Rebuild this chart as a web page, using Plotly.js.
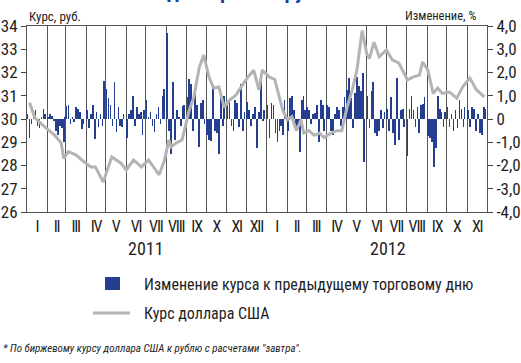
<!DOCTYPE html>
<html>
<head>
<meta charset="utf-8">
<script src="https://cdn.plot.ly/plotly-3.0.1.min.js"></script>
<style>html,body{margin:0;padding:0;background:#fff}#chart{width:521px;height:363px}
.xtick text{letter-spacing:-1.2px}</style>
</head>
<body>
<div id="chart"></div>
<script>
// ---- DATA ----
const monthStarts2011 = ['2011-01','2011-02','2011-03','2011-04','2011-05','2011-06','2011-07','2011-08','2011-09','2011-10','2011-11','2011-12'];
const monthStarts2012 = ['2012-01','2012-02','2012-03','2012-04','2012-05','2012-06','2012-07','2012-08','2012-09','2012-10','2012-11'];
const barDays = [2,5,8,11,14,17,20,23,26,28];

// daily change of the rate, % (10 readings per month)
const barChange2011 = [
  0.2,-0.8,-0.2,0.3,0.4,-0.3,-0.4,0.1,0.45,0.2,
  0.1,0.2,0.15,-0.1,-0.5,-0.7,-0.3,-0.4,-1.0,0.1,
  0.55,0.6,-0.2,0.1,-0.15,0.5,0.45,0.3,-0.45,-0.2,
  0.4,-0.4,0.2,0.6,-0.85,0.3,-0.35,0.2,-0.3,1.65,
  1.3,0.9,0.6,-0.3,1.6,-0.55,0.5,-0.3,-0.35,0.2,
  -0.8,0.2,0.4,1.0,-0.3,0.5,0.2,0.3,-0.7,0.4,
  0.8,0.1,0.3,-0.3,-0.55,0.2,0.5,-0.2,1.0,1.3,
  3.7,-0.5,-1.5,1.6,-0.9,0.4,0.1,-0.3,0.55,0.6,
  0.95,1.7,1.5,-0.5,1.2,0.6,-1.2,0.7,0.8,-0.2,
  -0.7,-0.9,-0.95,1.4,-0.5,-0.6,-1.5,0.9,-0.3,1.0,
  0.6,0.8,-0.3,-0.5,0.8,0.7,-0.35,1.5,-0.5,0.3,
  0.75,0.4,-0.3,0.2,0.5,-1.25,0.3,1.6,-0.1,0.4
];
const barChange2012 = [
  0.6,-0.8,0.7,0.6,-0.6,-1.0,-0.5,-0.3,-0.7,0.8,
  -0.5,0.9,1.0,0.4,-0.3,-0.4,-1.4,0.8,1.0,0.4,
  0.5,0.4,-0.2,0.2,0.25,0.6,-1.0,0.8,0.6,-0.5,
  0.6,0.5,-0.5,-0.7,0.2,0.5,0.4,-0.3,0.5,0.95,
  1.25,1.75,0.9,-0.4,1.1,1.8,1.4,1.2,2.0,-1.85,
  1.0,-0.4,1.2,1.6,-0.6,-0.75,-0.5,0.4,-0.4,0.3,
  0.45,-0.5,0.95,-0.6,-1.1,1.75,-0.9,0.4,0.45,-0.35,
  -1.6,0.45,1.0,0.4,-0.35,0.5,-0.6,0.6,0.65,0.95,
  -0.75,-0.8,-1.0,-2.05,-1.25,1.0,0.45,0.3,-0.35,0.3,
  0.5,-0.35,0.2,-0.5,0.4,-0.4,0.8,0.45,-0.35,0.5,
  0.4,-0.35,0.5,0.45,-0.5,0.2,-0.6,-0.7,0.5,0.45
];

// USD rate, rub.
const rateDates = [
  '2011-01-05','2011-01-13','2011-01-28','2011-02-12','2011-02-22','2011-02-26','2011-03-05','2011-03-17','2011-03-25',
  '2011-04-08','2011-04-15','2011-04-27','2011-05-10','2011-05-24','2011-06-01','2011-06-12','2011-06-24',
  '2011-07-05','2011-07-21','2011-07-29','2011-08-05','2011-08-08','2011-08-16','2011-08-25',
  '2011-09-05','2011-09-12','2011-09-20','2011-09-27','2011-10-05','2011-10-12','2011-10-20','2011-10-28',
  '2011-11-05','2011-11-15','2011-11-23','2011-12-02','2011-12-12','2011-12-20','2011-12-25',
  '2012-01-05','2012-01-13','2012-01-21','2012-01-25','2012-02-01','2012-02-08','2012-02-15','2012-02-22','2012-02-26',
  '2012-03-05','2012-03-13','2012-03-21','2012-03-28','2012-04-08','2012-04-17','2012-04-24',
  '2012-05-02','2012-05-10','2012-05-17','2012-05-25','2012-06-01','2012-06-05','2012-06-12','2012-06-20',
  '2012-07-01','2012-07-10','2012-07-20','2012-07-28','2012-08-02','2012-08-10','2012-08-20','2012-08-25',
  '2012-09-02','2012-09-10','2012-09-17','2012-09-24','2012-10-05','2012-10-16','2012-10-25',
  '2012-11-05','2012-11-15','2012-11-27'
];
const rateValues = [
  30.7,30.05,29.66,29.31,28.97,28.3,28.6,28.45,28.24,
  27.94,27.94,27.29,28.37,28.1,27.8,28.24,27.94,
  28.24,27.6,28.2,29.1,28.8,28.97,29.1,
  30.39,30.95,32.2,32.75,31.8,31.33,31.38,30.5,
  30.8,31.03,31.38,31.76,32.1,31.25,32.1,
  31.8,31.7,30.8,30.4,29.96,30.1,29.5,29.96,29.4,
  29.5,29.3,29.4,29.2,29.4,29.5,29.5,
  30.5,31.25,32.1,33.8,32.8,32.6,33.3,32.67,
  32.97,32.54,32.4,31.98,31.68,31.8,31.89,32.45,
  32.1,31.1,31.33,31.1,31.16,30.9,31.38,
  31.76,31.25,30.95
];

const monthTickVals = ['2011-01-16','2011-02-15','2011-03-16','2011-04-16','2011-05-16','2011-06-16','2011-07-16','2011-08-16','2011-09-16','2011-10-16','2011-11-16','2011-12-16',
  '2012-01-16','2012-02-15','2012-03-16','2012-04-16','2012-05-16','2012-06-16','2012-07-16','2012-08-16','2012-09-16','2012-10-16','2012-11-16'];
const monthTickText = ['I','II','III','IV','V','VI','VII','VIII','IX','X','XI','XII','I','II','III','IV','V','VI','VII','VIII','IX','X','XI'];
const rubTicks = [26,27,28,29,30,31,32,33,34];
const pctTickVals = [-4,-3,-2,-1,0,1,2,3,4];
const pctTickText = ['-4,0','-3,0','-2,0','-1,0','0','1,0','2,0','3,0','4,0'];
const years = ['2011','2012'];
const yearPos = ['2011-07-01','2012-07-04'];

// ---- BUILD ----
function pad(n){return (n<10?'0':'')+n;}
const barDates = [];
monthStarts2011.concat(monthStarts2012).forEach(m => {
  barDays.forEach(d => {
    const dd = (m.endsWith('-02') && d > 28) ? 28 : d;
    barDates.push(m + '-' + pad(dd));
  });
});
const barValues = barChange2011.concat(barChange2012);

const NARROW = '"Roboto Condensed", "DejaVu Sans Condensed", sans-serif';
const BLUE = '#243f8f';
const GRAY = '#b4b4b4';
const TXT = '#1e1e1e';

const traces = [
  {type:'bar', x:barDates, y:barValues, yaxis:'y', marker:{color:BLUE, line:{width:0}},
   width:2.5*86400000, hoverinfo:'skip'},
  {type:'scatter', mode:'lines', x:rateDates, y:rateValues, yaxis:'y2',
   line:{color:GRAY, width:3}, hoverinfo:'skip'}
];

const pxX = p => (p-27)/460;
const pxY = p => (212-p)/186;

const annotations = [
  {text:'доллар США/рубль', xref:'paper', yref:'paper', x:pxX(251), y:pxY(6), xanchor:'center', yanchor:'bottom',
   showarrow:false, font:{family:NARROW, size:21, color:'#1c3f95', weight:'bold'}},
  {text:'Курс, руб.', xref:'paper', yref:'paper', x:pxX(27), y:pxY(16), xanchor:'left', yanchor:'middle',
   showarrow:false, font:{family:NARROW, size:13, color:TXT}},
  {text:'Изменение, %', xref:'paper', yref:'paper', x:pxX(478), y:pxY(15), xanchor:'right', yanchor:'middle',
   showarrow:false, font:{family:NARROW, size:12.5, color:TXT}},
  {text:'Изменение курса к предыдущему торговому дню', xref:'paper', yref:'paper', x:pxX(142), y:pxY(284), xanchor:'left', yanchor:'middle',
   showarrow:false, font:{family:NARROW, size:16, color:TXT}},
  {text:'Курс доллара США', xref:'paper', yref:'paper', x:pxX(142), y:pxY(313), xanchor:'left', yanchor:'middle',
   showarrow:false, font:{family:NARROW, size:16, color:TXT}},
  {text:'* По биржевому курсу доллара США к рублю с расчетами "завтра".', xref:'paper', yref:'paper', x:pxX(1), y:pxY(348), xanchor:'left', yanchor:'middle',
   showarrow:false, font:{family:NARROW, size:11, color:TXT, style:'italic'}}
];
years.forEach((t,i) => annotations.push({text:t, xref:'x', yref:'paper', x:yearPos[i], y:pxY(248), xanchor:'center', yanchor:'middle',
  showarrow:false, font:{family:NARROW, size:18, color:TXT}}));

const shapes = [
  {type:'rect', xref:'paper', yref:'paper', x0:pxX(105), x1:pxX(120), y0:pxY(290), y1:pxY(277), fillcolor:BLUE, line:{width:0}},
  {type:'line', xref:'paper', yref:'paper', x0:pxX(93), x1:pxX(130), y0:pxY(313), y1:pxY(313), line:{color:GRAY, width:3}}
];

const layout = {
  width:521, height:363,
  margin:{l:27, r:34, t:26, b:151, pad:0},
  paper_bgcolor:'#fff', plot_bgcolor:'#fff',
  showlegend:false,
  bargap:0,
  xaxis:{type:'date', range:['2011-01-01','2012-12-01'], tickmode:'array', tickvals:monthTickVals, ticktext:monthTickText,
    tickangle:0, ticks:'', showgrid:false, showline:true, linecolor:'#555', linewidth:1, mirror:true,
    tickfont:{family:NARROW, size:16, color:TXT},
    minor:{dtick:'M1', tick0:'2011-01-01', showgrid:true, gridcolor:'#555', gridwidth:1, ticks:''},
    zeroline:false, fixedrange:true},
  yaxis:{side:'right', range:[-4,4], tickmode:'array', tickvals:pctTickVals, ticktext:pctTickText,
    ticks:'outside', ticklen:5, tickcolor:'#444', showline:true, linecolor:'#555', showgrid:false, zeroline:false,
    tickfont:{family:NARROW, size:17, color:TXT}},
  yaxis2:{side:'left', overlaying:'y', range:[26,34], tickmode:'array', tickvals:rubTicks,
    ticks:'outside', ticklen:5, tickcolor:'#444', showline:true, linecolor:'#555', showgrid:false, zeroline:false,
    tickfont:{family:NARROW, size:17, color:TXT}},
  annotations:annotations,
  shapes:shapes
};

Plotly.newPlot('chart', traces, layout, {staticPlot:true, displayModeBar:false});
</script>
</body>
</html>
